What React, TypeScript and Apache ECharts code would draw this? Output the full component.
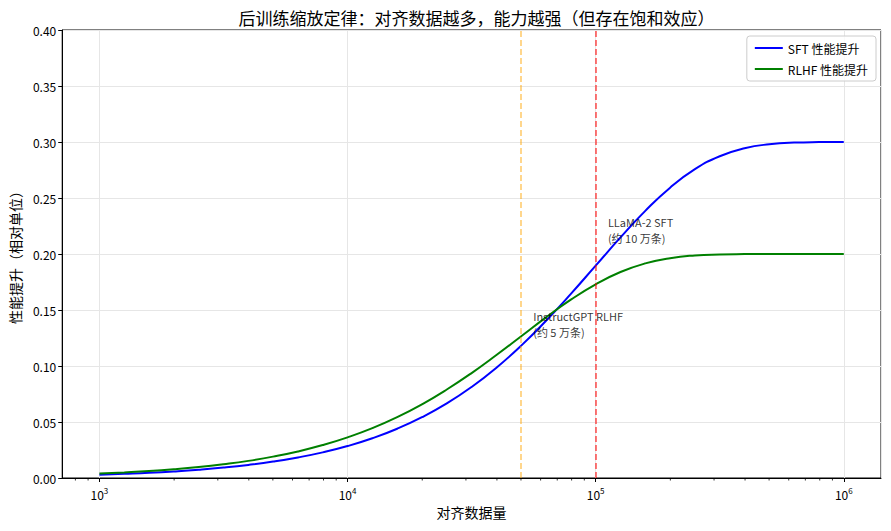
import React, { useEffect, useRef } from 'react';
import * as echarts from 'echarts';

// x sample points (alignment data size), log-spaced from 1e3 to 1e6
const dataSizes = [
  1000, 1259, 1585, 1995, 2512, 3162, 3981, 5012, 6310, 7943,
  10000, 12589, 15849, 19953, 25119, 31623, 39811, 50119, 63096, 79433,
  100000, 125893, 158489, 199526, 251189, 316228, 398107, 501187, 630957, 794328,
  1000000,
];

const sftGain = [
  0.0030, 0.0038, 0.0047, 0.0059, 0.0074, 0.0093, 0.0117, 0.0147, 0.0184, 0.0229,
  0.0285, 0.0355, 0.0440, 0.0543, 0.0666, 0.0813, 0.0985, 0.1182, 0.1404, 0.1644,
  0.1896, 0.2148, 0.2385, 0.2592, 0.2757, 0.2873, 0.2944, 0.2980, 0.2995, 0.2999,
  0.3000,
];

const rlhfGain = [
  0.0040, 0.0050, 0.0062, 0.0078, 0.0098, 0.0123, 0.0153, 0.0191, 0.0237, 0.0294,
  0.0363, 0.0445, 0.0543, 0.0658, 0.0790, 0.0937, 0.1098, 0.1266, 0.1434, 0.1592,
  0.1729, 0.1839, 0.1916, 0.1963, 0.1987, 0.1996, 0.1999, 0.2000, 0.2000, 0.2000,
  0.2000,
];

// minor ticks on the log axis (2..9 x 10^n)
const minorTicks = [
  800, 900,
  2000, 3000, 4000, 5000, 6000, 7000, 8000, 9000,
  20000, 30000, 40000, 50000, 60000, 70000, 80000, 90000,
  200000, 300000, 400000, 500000, 600000, 700000, 800000, 900000,
];

// annotation lines: [x, y, text]
const annotationLines: [number, number, string][] = [
  [112000, 0.2285, 'LLaMA-2 SFT'],
  [112000, 0.2147, '(约 10 万条)'],
  [56000, 0.1446, 'InstructGPT RLHF'],
  [56000, 0.1308, '(约 5 万条)'],
];

const xMin = 707.9;
const xMax = 1412538;

const FONT = '"Noto Sans CJK SC", "Noto Sans", sans-serif';

const App: React.FC = () => {
  const chartRef = useRef<HTMLDivElement>(null);

  useEffect(() => {
    const chart = echarts.init(chartRef.current!, null, { renderer: 'svg' });

    const sftData = dataSizes.map((x, i) => [x, sftGain[i]]);
    const rlhfData = dataSizes.map((x, i) => [x, rlhfGain[i]]);

    const option = {
      animation: false,
      textStyle: { fontFamily: FONT },
      title: {
        text: '后训练缩放定律：对齐数据越多，能力越强（但存在饱和效应）',
        left: 471.5,
        top: 4,
        textAlign: 'center',
        textStyle: { fontFamily: FONT, fontSize: 17, fontWeight: 'normal', color: '#000' },
      },
      grid: {
        left: 62,
        right: 10,
        top: 30,
        bottom: 53,
        show: true,
        borderColor: '#000',
        borderWidth: 1,
        backgroundColor: 'transparent',
      },
      legend: {
        data: ['SFT 性能提升', 'RLHF 性能提升'],
        orient: 'vertical',
        right: 15,
        top: 36,
        icon: 'rect',
        itemWidth: 28,
        itemHeight: 2,
        itemGap: 9,
        padding: [6, 8, 6, 8],
        borderColor: '#cccccc',
        borderWidth: 1,
        borderRadius: 3,
        backgroundColor: 'rgba(255,255,255,0.8)',
        textStyle: { fontFamily: FONT, fontSize: 12, color: '#000' },
      },
      xAxis: {
        type: 'log',
        logBase: 10,
        min: xMin,
        max: xMax,
        name: '对齐数据量',
        nameLocation: 'middle',
        nameGap: 27,
        nameTextStyle: { fontFamily: FONT, fontSize: 14, color: '#000' },
        axisLine: { show: true, lineStyle: { color: '#000', width: 1 } },
        axisTick: { show: true, length: 4, lineStyle: { color: '#000', width: 1 } },
        axisLabel: {
          showMinLabel: false,
          showMaxLabel: false,
          color: '#000',
          fontSize: 12,
          margin: 8,
          formatter: (v: number) => {
            const e = Math.log10(v);
            if (Math.abs(e - Math.round(e)) > 1e-6) return '';
            return '10{s|' + Math.round(e) + '}';
          },
          rich: {
            s: { fontSize: 8, padding: [0, 0, 8, 0], color: '#000' },
          },
        },
        splitLine: { show: true, lineStyle: { color: '#e6e6e6', width: 1 } },
      },
      yAxis: {
        type: 'value',
        min: 0,
        max: 0.4,
        interval: 0.05,
        name: '性能提升（相对单位）',
        nameLocation: 'middle',
        nameGap: 40,
        nameTextStyle: { fontFamily: FONT, fontSize: 14, color: '#000' },
        axisLine: { show: true, lineStyle: { color: '#000', width: 1 } },
        axisTick: { show: true, length: 4, lineStyle: { color: '#000', width: 1 } },
        axisLabel: {
          color: '#000',
          fontSize: 12,
          margin: 6,
          formatter: (v: number) => v.toFixed(2),
        },
        splitLine: { show: true, lineStyle: { color: '#e6e6e6', width: 1 } },
      },
      series: [
        {
          name: 'SFT 性能提升',
          type: 'line',
          data: sftData,
          smooth: true,
          showSymbol: false,
          symbol: 'none',
          lineStyle: { color: '#0000ff', width: 2 },
          itemStyle: { color: '#0000ff' },
          z: 3,
          markLine: {
            silent: true,
            symbol: 'none',
            label: { show: false },
            data: [
              { xAxis: 100000, lineStyle: { color: 'rgba(255,0,0,0.7)', width: 1.5, type: [6, 3] } },
            ],
          },
        },
        {
          name: 'RLHF 性能提升',
          type: 'line',
          data: rlhfData,
          smooth: true,
          showSymbol: false,
          symbol: 'none',
          lineStyle: { color: '#008000', width: 2 },
          itemStyle: { color: '#008000' },
          z: 3,
          markLine: {
            silent: true,
            symbol: 'none',
            label: { show: false },
            data: [
              { xAxis: 50000, lineStyle: { color: 'rgba(255,165,0,0.6)', width: 1.5, type: [6, 3] } },
            ],
          },
        },
        {
          name: 'annotations',
          type: 'scatter',
          symbolSize: 0,
          silent: true,
          z: 5,
          data: annotationLines.map(([x, y, t]) => ({ value: [x, y], label: { formatter: t } })),
          label: {
            show: true,
            position: [0, 0],
            align: 'left',
            verticalAlign: 'middle',
            fontFamily: FONT,
            fontSize: 11,
            color: '#000',
          },
        },
        {
          name: 'minorTicks',
          type: 'custom',
          silent: true,
          clip: false,
          data: minorTicks.map((x) => [x, 0]),
          renderItem: (params: any, api: any) => {
            const p = api.coord([api.value(0), 0]);
            return {
              type: 'line',
              shape: { x1: p[0], y1: p[1], x2: p[0], y2: p[1] + 2.5 },
              style: { stroke: '#000', lineWidth: 0.8 },
            };
          },
        },
      ],
    };

    chart.setOption(option);

    return () => {
      chart.dispose();
    };
  }, []);

  return (
    <div
      ref={chartRef}
      style={{ position: 'fixed', left: 0, top: 0, width: 891, height: 531, background: '#fff' }}
    />
  );
};

export default App;
